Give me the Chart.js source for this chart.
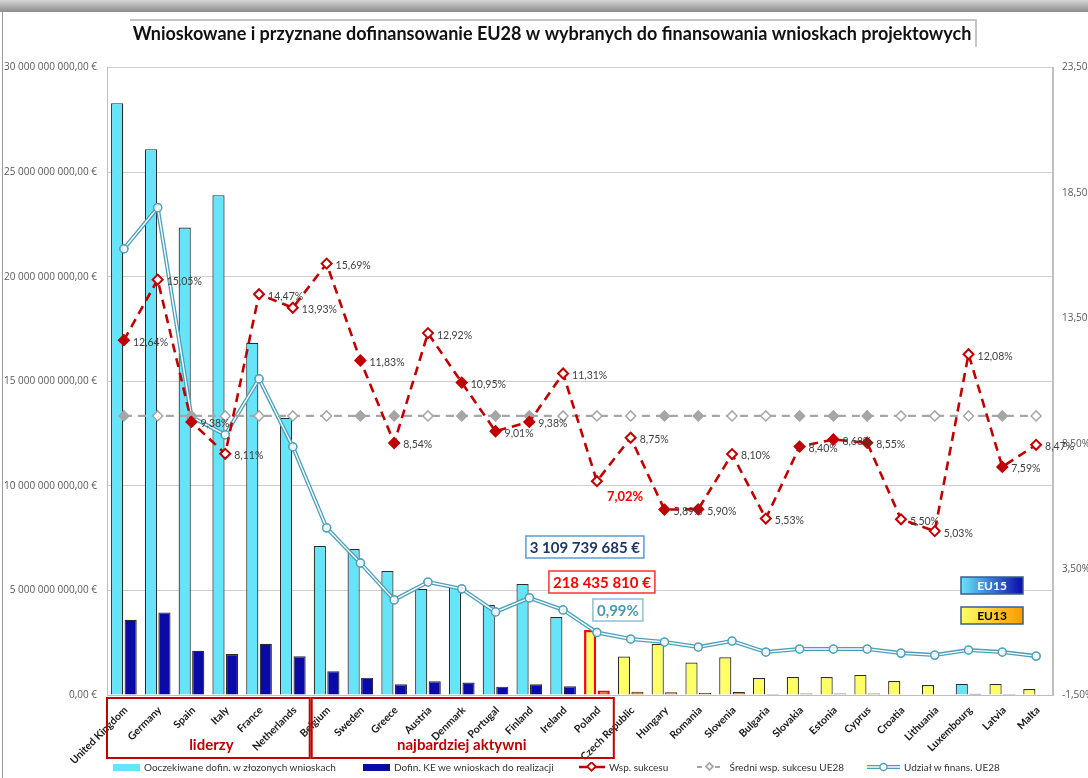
<!DOCTYPE html>
<html>
<head>
<meta charset="utf-8">
<script src="https://cdn.jsdelivr.net/npm/chart.js@4.4.1/dist/chart.umd.min.js"></script>
<style>
  body { margin: 0; background: #fff; }
  #wrap { position: relative; width: 1088px; height: 778px; overflow: hidden; }
  .lg { position: absolute; top: 761px; font: 10px Lato, sans-serif; color: #333; white-space: nowrap; display: flex; align-items: center; }
  .lg .sw { display: inline-block; margin-right: 4px; }
  .lg svg { margin-right: 4px; }
</style>
</head>
<body>
<div id="wrap">
  <canvas id="myChart" width="1088" height="778"></canvas>
  <div class="lg" style="left:113px"><span class="sw" style="width:27px;height:7px;background:#66E5FA"></span>Ooczekiwane dofin. w złozonych wnioskach</div>
  <div class="lg" style="left:363px"><span class="sw" style="width:27px;height:7px;background:#0A0AA8"></span>Dofin. KE we wnioskach do realizacji</div>
  <div class="lg" style="left:579px"><svg width="26" height="10"><line x1="0" y1="5" x2="26" y2="5" stroke="#C00000" stroke-width="2.5"/><rect x="9.5" y="1.5" width="6" height="6" transform="rotate(45 12.5 4.5)" fill="#fff" stroke="#C00000" stroke-width="1.8"/></svg>Wsp. sukcesu</div>
  <div class="lg" style="left:697px"><svg width="26" height="10"><line x1="0" y1="5" x2="26" y2="5" stroke="#A6A6A6" stroke-width="2" stroke-dasharray="5 4"/><rect x="10" y="2" width="5" height="5" transform="rotate(45 12.5 4.5)" fill="#fff" stroke="#A6A6A6" stroke-width="1.8"/></svg>&nbsp;Średni wsp. sukcesu UE28</div>
  <div class="lg" style="left:867px"><svg width="33" height="10"><line x1="0" y1="5" x2="33" y2="5" stroke="#4A9FBA" stroke-width="4"/><line x1="0" y1="5" x2="33" y2="5" stroke="#fff" stroke-width="1.4"/><circle cx="16.5" cy="5" r="3.5" fill="#fff" stroke="#4A9FBA" stroke-width="1.3"/></svg>Udział w finans. UE28</div>
</div>
<script>
// countries in the order shown
var countries = ["United Kingdom", "Germany", "Spain", "Italy", "France", "Netherlands", "Belgium", "Sweden", "Greece", "Austria", "Denmark", "Portugal", "Finland", "Ireland", "Poland", "Czech Republic", "Hungary", "Romania", "Slovenia", "Bulgaria", "Slovakia", "Estonia", "Cyprus", "Croatia", "Lithuania", "Luxembourg", "Latvia", "Malta"];

// group of each country (EU15 / EU13)
var groups = ["EU15", "EU15", "EU15", "EU15", "EU15", "EU15", "EU15", "EU15", "EU15", "EU15", "EU15", "EU15", "EU15", "EU15", "PL", "EU13", "EU13", "EU13", "EU13", "EU13", "EU13", "EU13", "EU13", "EU13", "EU13", "EU15", "EU13", "EU13"];

// expected co-financing in submitted proposals (EUR)
var requested = [28.3e9, 26.1e9, 22.35e9, 23.9e9, 16.84e9, 13.25e9, 7.13e9, 6.98e9, 5.93e9, 5.07e9, 5.17e9, 4.3e9, 5.31e9, 3.73e9, 3109739685, 1.84e9, 2.44e9, 1.55e9, 1.8e9, 0.81e9, 0.86e9, 0.86e9, 0.96e9, 0.67e9, 0.48e9, 0.53e9, 0.53e9, 0.29e9];

// EC co-financing in projects selected (EUR)
var granted = [3.6e9, 3.95e9, 2.11e9, 1.96e9, 2.45e9, 1.85e9, 1.14e9, 0.83e9, 0.51e9, 0.66e9, 0.6e9, 0.4e9, 0.52e9, 0.42e9, 218435810, 0.16e9, 0.135e9, 0.09e9, 0.14e9, 0.046e9, 0.073e9, 0.073e9, 0.073e9, 0.038e9, 0.02e9, 0.064e9, 0.046e9, 0.011e9];

// success rate (%)
var successRate = [12.64, 15.05, 9.38, 8.11, 14.47, 13.93, 15.69, 11.83, 8.54, 12.92, 10.95, 9.01, 9.38, 11.31, 7.02, 8.75, 5.89, 5.90, 8.10, 5.53, 8.40, 8.68, 8.55, 5.50, 5.03, 12.08, 7.59, 8.47];

// EU28 average success rate (%)
var avgSuccess = [9.62, 9.62, 9.62, 9.62, 9.62, 9.62, 9.62, 9.62, 9.62, 9.62, 9.62, 9.62, 9.62, 9.62, 9.62, 9.62, 9.62, 9.62, 9.62, 9.62, 9.62, 9.62, 9.62, 9.62, 9.62, 9.62, 9.62, 9.62];

// share in EU28 funding (%)
var fundingShare = [16.28, 17.92, 9.58, 8.87, 11.10, 8.39, 5.16, 3.76, 2.29, 3.00, 2.73, 1.81, 2.37, 1.89, 0.99, 0.73, 0.61, 0.41, 0.65, 0.21, 0.33, 0.33, 0.33, 0.17, 0.09, 0.29, 0.21, 0.05];

// axis ticks
var euroTicks = [0, 5e9, 10e9, 15e9, 20e9, 25e9, 30e9];
var pctTicks = [-1.5, 3.5, 8.5, 13.5, 18.5, 23.5];

var FONT = "Lato, 'Open Sans', sans-serif";
var AXFONT = "'Open Sans', sans-serif";

function fmtEuro(v) {
  return Math.round(v).toString().replace(/\B(?=(\d{3})+(?!\d))/g, " ") + ",00 €";
}
function fmtPct(v) {
  return v.toFixed(2).replace(".", ",") + "%";
}

var lightColors = groups.map(function (g) { return g == "EU15" ? "#66E5FA" : "#FFFF66"; });
var darkColors = groups.map(function (g) { return g == "EU15" ? "#0A0AA8" : (g == "PL" ? "#F26A1B" : "#D98A1E"); });
var barBorders = groups.map(function (g) { return g == "PL" ? "#FF0000" : "#2b2b2b"; });
var barBorderW = groups.map(function (g) { return g == "PL" ? 2.5 : 1.2; });

// which red markers are hollow (as in the picture)
var hollow = [0, 1, 0, 1, 1, 1, 1, 0, 0, 1, 0, 0, 0, 1, 1, 1, 0, 0, 1, 1, 0, 0, 0, 1, 1, 1, 0, 1];

var decor = {
  id: "decor",
  beforeDraw: function (chart) {
    var ctx = chart.ctx;
    ctx.save();
    ctx.fillStyle = "#fff";
    ctx.fillRect(0, 0, chart.width, chart.height);
    var g = ctx.createLinearGradient(0, 0, 0, 12);
    g.addColorStop(0, "#d6d6d6");
    g.addColorStop(1, "#8c8c8c");
    ctx.fillStyle = g;
    ctx.fillRect(0, 0, chart.width, 12);
    ctx.strokeStyle = "#9a9a9a";
    ctx.lineWidth = 1;
    ctx.beginPath();
    ctx.moveTo(2.5, 12);
    ctx.lineTo(2.5, chart.height);
    ctx.stroke();
    // title box
    ctx.strokeStyle = "#c4c4c4";
    ctx.lineWidth = 2;
    ctx.beginPath();
    ctx.moveTo(130, 20);
    ctx.lineTo(976, 20);
    ctx.lineTo(976, 47);
    ctx.stroke();
    ctx.restore();
  },
  afterDatasetDraw: function (chart, args) {
    // double line look for the share series
    if (args.index != 4) return;
    var ctx = chart.ctx;
    var pts = args.meta.data;
    ctx.save();
    ctx.strokeStyle = "#ffffff";
    ctx.lineWidth = 1.4;
    ctx.beginPath();
    pts.forEach(function (p, i) {
      if (i == 0) ctx.moveTo(p.x, p.y); else ctx.lineTo(p.x, p.y);
    });
    ctx.stroke();
    ctx.restore();
    pts.forEach(function (p) { p.draw(ctx); });
  },
  afterDatasetsDraw: function (chart) {
    var ctx = chart.ctx;
    var meta = chart.getDatasetMeta(2);
    ctx.save();
    ctx.textBaseline = "middle";
    ctx.textAlign = "left";
    meta.data.forEach(function (p, i) {
      if (countries[i] == "Poland") {
        ctx.font = "bold 13px " + FONT;
        ctx.fillStyle = "#FF0000";
        ctx.fillText(fmtPct(successRate[i]), p.x + 10, p.y + 16);
      } else {
        ctx.font = "10.5px " + FONT;
        ctx.fillStyle = "#404040";
        ctx.fillText(fmtPct(successRate[i]), p.x + 9, p.y + 2);
      }
    });

    var x = chart.scales.x;
    var step = x.getPixelForValue(1) - x.getPixelForValue(0);
    function edge(i) { return x.getPixelForValue(i) - step / 2; }

    // group boxes under the axis
    ctx.strokeStyle = "#C00000";
    ctx.lineWidth = 2;
    ctx.strokeRect(edge(0), 698, edge(6) - edge(0), 60);
    ctx.strokeRect(edge(6) + 2, 698, edge(15) - edge(6) - 2, 60);
    ctx.fillStyle = "#C00000";
    ctx.font = "bold 15px " + FONT;
    ctx.textAlign = "center";
    ctx.fillText("liderzy", edge(0) + (edge(6) - edge(0)) / 2 + 3, 745);
    ctx.fillText("najbardziej aktywni", edge(6) + (edge(15) - edge(6)) / 2, 745);

    // Poland call-outs
    var px = x.getPixelForValue(14);
    function callout(text, cx, cy, w, color, border) {
      ctx.fillStyle = "#fff";
      ctx.fillRect(cx - w / 2, cy - 11, w, 22);
      ctx.strokeStyle = border;
      ctx.lineWidth = 1.5;
      ctx.strokeRect(cx - w / 2, cy - 11, w, 22);
      ctx.fillStyle = color;
      ctx.font = "bold 15px " + FONT;
      ctx.fillText(text, cx, cy + 1);
    }
    callout("3 109 739 685 €", px - 12, 547, 118, "#1F3864", "#5B9BD5");
    callout("218 435 810 €", px + 5, 582, 106, "#FF0000", "#FF3030");
    callout("0,99%", px + 21, 610, 50, "#4A9AB5", "#8FBFD0");

    // EU15 / EU13 keys
    function key(text, y, c1, c2, tc) {
      var g = ctx.createLinearGradient(961, 0, 1023, 0);
      g.addColorStop(0, c1);
      g.addColorStop(1, c2);
      ctx.fillStyle = g;
      ctx.fillRect(961, y, 62, 17);
      ctx.strokeStyle = "#3a5f8a";
      ctx.lineWidth = 1.5;
      ctx.strokeRect(961, y, 62, 17);
      ctx.fillStyle = tc;
      ctx.font = "bold 12px " + FONT;
      ctx.fillText(text, 992, y + 9);
    }
    key("EU15", 577, "#66E5FA", "#0A0AA8", "#ffffff");
    key("EU13", 607, "#FFFF66", "#FF9900", "#000000");
    ctx.restore();
  }
};

var ctx = document.getElementById("myChart");
var myChart = new Chart(ctx, {
  type: "bar",
  data: {
    labels: countries,
    datasets: [
      {
        label: "Ooczekiwane dofin. w złozonych wnioskach",
        data: requested,
        backgroundColor: lightColors,
        borderColor: barBorders,
        borderWidth: barBorderW,
        yAxisID: "y",
        order: 5
      },
      {
        label: "Dofin. KE we wnioskach do realizacji",
        data: granted,
        backgroundColor: darkColors,
        borderColor: barBorders,
        borderWidth: barBorderW,
        yAxisID: "y",
        order: 5
      },
      {
        type: "line",
        label: "Wsp. sukcesu",
        data: successRate,
        borderColor: "#C00000",
        borderWidth: 2.6,
        borderDash: [9, 6],
        pointStyle: "rectRot",
        pointRadius: 5,
        pointBorderWidth: 2,
        pointBorderColor: "#C00000",
        pointBackgroundColor: hollow.map(function (h) { return h ? "#ffffff" : "#C00000"; }),
        tension: 0,
        yAxisID: "y1",
        order: 1
      },
      {
        type: "line",
        label: "Średni wsp. sukcesu UE28",
        data: avgSuccess,
        borderColor: "#A6A6A6",
        borderWidth: 2.2,
        borderDash: [8, 6],
        pointStyle: "rectRot",
        pointRadius: 5,
        pointBorderWidth: 1.5,
        pointBorderColor: "#A6A6A6",
        pointBackgroundColor: hollow.map(function (h) { return h ? "#ffffff" : "#A6A6A6"; }),
        yAxisID: "y1",
        order: 2
      },
      {
        type: "line",
        label: "Udział w finans. UE28",
        data: fundingShare,
        borderColor: "#4A9FBA",
        borderWidth: 4,
        pointStyle: "circle",
        pointRadius: 4,
        pointBorderWidth: 1.3,
        pointBorderColor: "#4A9FBA",
        pointBackgroundColor: "rgba(255,255,255,0.6)",
        tension: 0,
        yAxisID: "y1",
        order: 3
      }
    ]
  },
  options: {
    responsive: false,
    devicePixelRatio: 1,
    animation: false,
    // negative right padding shifts the title centre to match the picture
    layout: { padding: { left: 0, right: -16, top: 0, bottom: 3 } },
    plugins: {
      legend: { display: false },
      tooltip: { enabled: false },
      title: {
        display: true,
        text: "Wnioskowane i przyznane dofinansowanie EU28 w wybranych do finansowania wnioskach projektowych",
        color: "#111",
        font: { family: FONT, size: 18, weight: "bold" },
        padding: { top: 23, bottom: 23 }
      }
    },
    scales: {
      x: {
        offset: true,
        grid: { display: false },
        border: { display: true, color: "#bfbfbf" },
        ticks: {
          autoSkip: false,
          minRotation: 45,
          maxRotation: 45,
          labelOffset: 2,
          color: "#1a1a1a",
          padding: 1,
          font: { family: FONT, size: 10.5, weight: "bold" }
        },
        categoryPercentage: 0.8,
        barPercentage: 0.9,
        afterFit: function (s) { s.height = 80; }
      },
      y: {
        position: "left",
        min: 0,
        max: 30e9,
        afterBuildTicks: function (s) { s.ticks = euroTicks.map(function (v) { return { value: v }; }); },
        grid: { color: "#d0d0d0", drawTicks: false },
        border: { color: "#bfbfbf" },
        ticks: {
          padding: 10,
          color: "#595959",
          font: { family: AXFONT, size: 10 },
          callback: function (v) { return fmtEuro(v); }
        },
        afterFit: function (s) { s.width = 107; }
      },
      y1: {
        position: "right",
        min: -1.5,
        max: 23.5,
        afterBuildTicks: function (s) { s.ticks = pctTicks.map(function (v) { return { value: v }; }); },
        grid: { display: false, drawTicks: false },
        border: { color: "#bfbfbf", width: 2 },
        ticks: {
          padding: 9,
          color: "#595959",
          font: { family: AXFONT, size: 10 },
          callback: function (v) { return fmtPct(v); }
        },
        afterFit: function (s) { s.width = 51; }
      }
    }
  },
  plugins: [decor]
});
</script>
</body>
</html>
